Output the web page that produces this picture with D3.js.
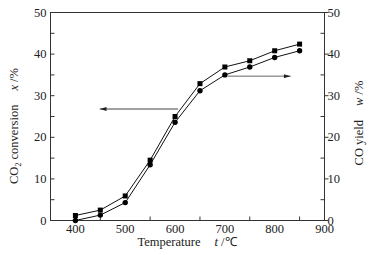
<!DOCTYPE html>
<html><head><meta charset="utf-8">
<script src="https://cdn.jsdelivr.net/npm/d3@7"></script>
<style>
body{margin:0;background:#fff;}
svg{display:block;}
text{font-family:"Liberation Serif","Times New Roman",Tinos,serif;}
</style></head>
<body>
<svg id="c" width="373" height="255"></svg>
<script>
const temps = [400,450,500,550,600,650,700,750,800,850];
const co2Conversion = [1.2,2.5,5.9,14.5,25.0,32.9,36.9,38.4,40.8,42.4];
const coYield = [0.0,1.3,4.3,13.4,23.6,31.2,35.0,36.9,39.2,40.8];
const xTicks = [400,500,600,700,800,900];
const yTicks = [0,10,20,30,40,50];

const FONT = "Liberation Serif, Times New Roman, serif";
const svg = d3.select("#c");
const L=50.5, R=324.5, T=12.5, B=220.5;
const x = d3.scaleLinear().domain([350,900]).range([L,R]);
const y = d3.scaleLinear().domain([0,50]).range([B,T]);

// frame
svg.append("rect").attr("x",L).attr("y",T).attr("width",R-L).attr("height",B-T)
  .attr("fill","none").attr("stroke","#333").attr("stroke-width",1);

const g = svg.append("g").attr("font-size",12.5).attr("font-family",FONT).attr("fill","#222");
// x labels
xTicks.forEach(t=>{
  g.append("text").attr("x",x(t)).attr("y",B+12).attr("text-anchor","middle").text(t);
});
// x minor ticks inward
d3.range(450,900,100).forEach(t=>{
  svg.append("line").attr("x1",x(t)).attr("x2",x(t)).attr("y1",B).attr("y2",B-4).attr("stroke","#333");
});
// y axes
yTicks.forEach(t=>{
  g.append("text").attr("x",L-4).attr("y",y(t)+4).attr("text-anchor","end").text(t);
  g.append("text").attr("x",R+3).attr("y",y(t)+4).attr("text-anchor","start").text(t);
  svg.append("line").attr("x1",L).attr("x2",L+4).attr("y1",y(t)).attr("y2",y(t)).attr("stroke","#333");
  svg.append("line").attr("x1",R).attr("x2",R+4).attr("y1",y(t)).attr("y2",y(t)).attr("stroke","#333");
});
d3.range(5,50,10).forEach(t=>{
  svg.append("line").attr("x1",L).attr("x2",L+4).attr("y1",y(t)).attr("y2",y(t)).attr("stroke","#333");
  svg.append("line").attr("x1",R).attr("x2",R-4).attr("y1",y(t)).attr("y2",y(t)).attr("stroke","#333");
});

// lines
const line = d3.line().x((d,i)=>x(temps[i])).y(d=>y(d));
[co2Conversion, coYield].forEach(s=>{
  svg.append("path").attr("d",line(s)).attr("fill","none").attr("stroke","#111").attr("stroke-width",1);
});
// markers
svg.selectAll(".sq").data(co2Conversion).enter().append("rect")
  .attr("x",(d,i)=>x(temps[i])-2.5).attr("y",d=>y(d)-2.5).attr("width",5).attr("height",5).attr("fill","#000");
svg.selectAll(".ci").data(coYield).enter().append("circle")
  .attr("cx",(d,i)=>x(temps[i])).attr("cy",d=>y(d)).attr("r",2.7).attr("fill","#000");

// arrows
const defs = svg.append("defs");
defs.append("marker").attr("id","ah").attr("viewBox","0 0 10 6").attr("refX",10).attr("refY",3)
  .attr("markerWidth",9).attr("markerHeight",4).attr("orient","auto").attr("markerUnits","userSpaceOnUse")
  .append("path").attr("d","M0,0 L10,3 L0,6 Z").attr("fill","#222");
svg.append("line").attr("x1",x(606)).attr("x2",x(449)).attr("y1",y(26.8)).attr("y2",y(26.8))
  .attr("stroke","#444").attr("stroke-width",1).attr("marker-end","url(#ah)");
svg.append("line").attr("x1",x(706)).attr("x2",x(832)).attr("y1",y(34.7)).attr("y2",y(34.7))
  .attr("stroke","#666").attr("stroke-width",1).attr("marker-end","url(#ah)");

// titles
const xt = svg.append("text").attr("x",187).attr("y",246).attr("text-anchor","middle").attr("font-size",12.5).attr("font-family",FONT).attr("fill","#222");
xt.append("tspan").text("Temperature");
xt.append("tspan").attr("dx",14).attr("font-style","italic").text("t");
xt.append("tspan").text(" /℃");

const yl = svg.append("text").attr("transform","translate(18,126) rotate(-90)").attr("text-anchor","middle").attr("font-size",12.5).attr("font-family",FONT).attr("fill","#222");
yl.append("tspan").text("CO");
yl.append("tspan").attr("font-size",8).attr("dy",3).text("2");
yl.append("tspan").attr("dy",-3).text(" conversion");
yl.append("tspan").attr("dx",14).attr("font-style","italic").text("x");
yl.append("tspan").text(" /%");

const yr = svg.append("text").attr("transform","translate(363,123) rotate(-90)").attr("text-anchor","middle").attr("font-size",12.5).attr("font-family",FONT).attr("fill","#222");
yr.append("tspan").text("CO yield");
yr.append("tspan").attr("dx",14).attr("font-style","italic").text("w");
yr.append("tspan").text(" /%");
</script>
</body></html>
